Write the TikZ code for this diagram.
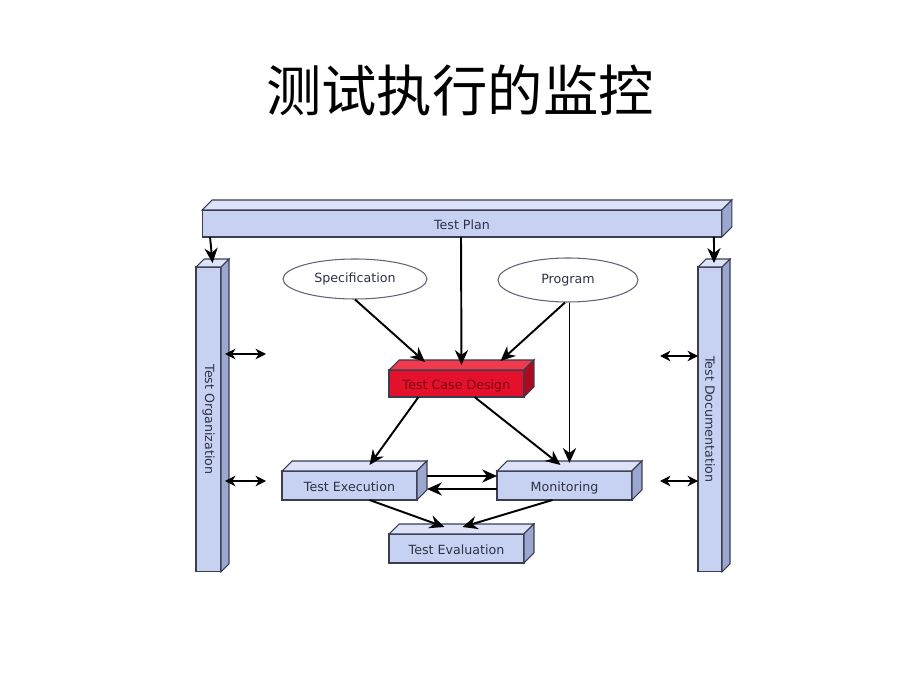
\documentclass[tikz,border=0pt]{standalone}
\usepackage{fontspec}
\setmainfont{DejaVu Sans}
\newfontfamily\cjk{Noto Sans CJK SC}
\usetikzlibrary{arrows.meta,shapes.geometric}

\definecolor{blaufront}{HTML}{C7D2F2}
\definecolor{blautop}{HTML}{DCE3F8}
\definecolor{blauseite}{HTML}{9AA7CF}
\definecolor{rotfront}{HTML}{E5102C}
\definecolor{rottop}{HTML}{F03A4E}
\definecolor{rotseite}{HTML}{B0081E}
\definecolor{rand}{HTML}{3A3D50}
\definecolor{schrift}{HTML}{2E3148}

% Deckflaeche und Seitenflaeche eines Quaders
\newcommand{\flaechen}[4]{%
  \filldraw[fill=#3, draw=rand, line width=0.6pt] (#1.north west) -- ++(#2,#2) -- ([shift={(#2,#2)}]#1.north east) -- (#1.north east) -- cycle;
  \filldraw[fill=#4, draw=rand, line width=0.6pt] (#1.north east) -- ++(#2,#2) -- ([shift={(#2,#2)}]#1.south east) -- (#1.south east) -- cycle;
}

\begin{document}
\begin{tikzpicture}[x=0.02cm, y=0.02cm, >={Stealth[length=8.5pt,width=7.5pt]},
  quader/.style={draw=rand, fill=blaufront, line width=0.6pt, inner sep=0pt, outer sep=0pt,
    text=schrift, font=\fontsize{7.2}{8}\selectfont, text height=6.8pt, text depth=0pt,
    minimum width=2.7cm, minimum height=0.58cm},
  oval/.style={ellipse, draw=rand!80, fill=white, line width=0.6pt, inner sep=0pt,
    text=schrift, font=\fontsize{7.2}{8}\selectfont},
  pfeil/.style={->, line width=1.1pt},
  doppel/.style={<->, line width=0.7pt, >={Stealth[length=6pt,width=6pt]}}]

\useasboundingbox (0,0) rectangle (920,690);

\node[font=\cjk\fontsize{31.5}{34}\selectfont] (titel) at (460,600) {测试执行的监控};

% Quader
\node[quader, minimum width=10.4cm, minimum height=0.54cm] (plan) at (462,466.5) {Test Plan};
\flaechen{plan}{10}{blautop}{blauseite}
\node[quader, text height=, text depth=, minimum width=0.5cm, minimum height=6.1cm] (org) at (208.5,270.5) {\rotatebox{-90}{Test Organization}};
\flaechen{org}{8}{blautop}{blauseite}
\node[quader, text height=, text depth=, minimum width=0.48cm, minimum height=6.1cm] (doc) at (710,270.5) {\rotatebox{-90}{Test Documentation}};
\flaechen{doc}{8}{blautop}{blauseite}
\node[quader, fill=rotfront, text=rotseite!70!black, minimum height=0.54cm] (design) at (456.5,306.5) {Test Case Design};
\flaechen{design}{10}{rottop}{rotseite}
\node[quader] (exec) at (349.5,204.5) {Test Execution};
\flaechen{exec}{10}{blautop}{blauseite}
\node[quader] (mon) at (564.5,204.5) {Monitoring};
\flaechen{mon}{10}{blautop}{blauseite}
\node[quader] (eval) at (456.5,141.5) {Test Evaluation};
\flaechen{eval}{10}{blautop}{blauseite}

% Ellipsen
\node[oval, minimum width=2.88cm, minimum height=0.8cm] (spec) at (355,411) {Specification};
\node[oval, minimum width=2.8cm, minimum height=0.88cm] (prog) at (568,410) {Program};

% Pfeile
\draw[pfeil] (plan.south -| 461,0) -- ([shift={(5,5)}]design.north);
\draw[pfeil] ([shift={(8,0)}]plan.south west) -- ([shift={(4,4)}]org.north);
\draw[pfeil] ([shift={(-8,0)}]plan.south east) -- ([shift={(4,4)}]doc.north);
\draw[pfeil] (spec.south) -- ([shift={(36,8)}]design.north west);
\draw[pfeil] ([shift={(-3,0)}]prog.south) -- ([shift={(44,9)}]design.north);
\coordinate (montop) at ([shift={(5,8)}]mon.north);
\draw[pfeil] (prog.south -| montop) -- (montop);
\draw[pfeil] ([shift={(-38,0)}]design.south) -- ([shift={(20,6)}]exec.north);
\draw[pfeil] ([shift={(18,0)}]design.south) -- ([shift={(-4,6)}]mon.north);
\draw[pfeil] ([shift={(10,9.5)}]exec.east) -- ([shift={(0,9.5)}]mon.west);
\draw[pfeil] ([shift={(0,-3.5)}]mon.west) -- ([shift={(10,-3.5)}]exec.east);
\draw[pfeil] ([shift={(20,0)}]exec.south) -- ([shift={(-12,7)}]eval.north);
\draw[pfeil] ([shift={(-12,0)}]mon.south) -- ([shift={(6,7)}]eval.north);

% Doppelpfeile
\coordinate (ol) at (266,336);
\coordinate (ou) at (266,209);
\coordinate (dl) at (660,334);
\coordinate (du) at (660,209);
\draw[doppel] ([shift={(4,0)}]org.east |- ol) -- (ol);
\draw[doppel] ([shift={(4,0)}]org.east |- ou) -- (ou);
\draw[doppel] (dl) -- (doc.west |- dl);
\draw[doppel] (du) -- (doc.west |- du);
\end{tikzpicture}
\end{document}
